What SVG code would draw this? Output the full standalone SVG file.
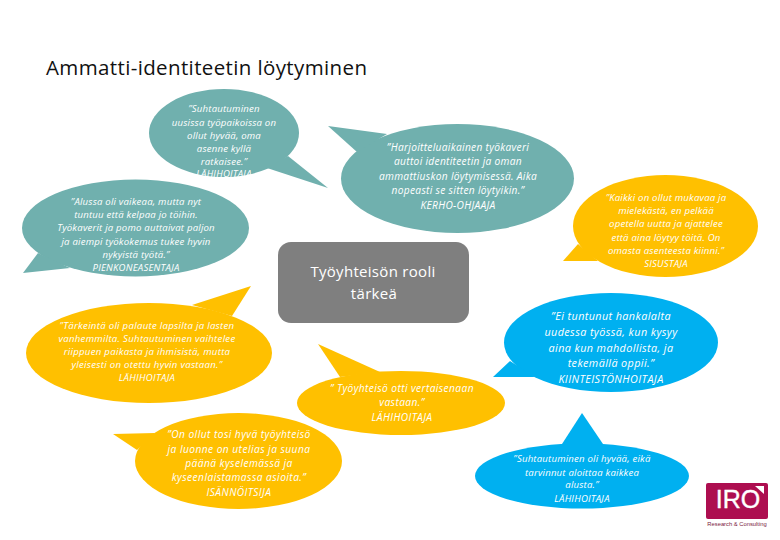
<svg xmlns="http://www.w3.org/2000/svg" width="780" height="540" viewBox="0 0 780 540">
<style>
.t{fill:#70b0ae}.y{fill:#ffc000}.b{fill:#00b0f0}
text{font-family:"Open Sans","DejaVu Sans",sans-serif;fill:#fff;text-anchor:middle}
.q{font-size:9.6px;font-style:italic;letter-spacing:.2px}
.m{font-size:10.2px;letter-spacing:.3px}
.l{font-size:10.8px;letter-spacing:.4px}
.g{font-size:15px;letter-spacing:.3px}
</style>
<rect width="780" height="540" fill="#fff"/>
<text x="46" y="75" style="font-size:20.5px;fill:#111;text-anchor:start;letter-spacing:.37px">Ammatti-identiteetin löytyminen</text>
<g id="n1"><ellipse class="t" cx="224" cy="133" rx="75" ry="44"/><polygon class="t" points="288,156 328,188 267,168"/>
<text class="q" x="224" y="112">”Suhtautuminen</text><text class="q" x="224" y="126">uusissa työpaikoissa on</text><text class="q" x="224" y="139">ollut hyvää, oma</text><text class="q" x="224" y="152">asenne kyllä</text><text class="q" x="224" y="165">ratkaisee.”</text><text class="q" x="224" y="177">LÄHIHOITAJA</text></g>
<g id="n2"><ellipse class="t" cx="135.500" cy="228" rx="113.500" ry="48.500"/><polygon class="t" points="38,253 23,273 70,268"/>
<text class="q" x="136" y="205">”Alussa oli vaikeaa, mutta nyt</text><text class="q" x="136" y="218">tuntuu että kelpaa jo töihin.</text><text class="q" x="136" y="231">Työkaverit ja pomo auttaivat paljon</text><text class="q" x="136" y="245">ja aiempi työkokemus tukee hyvin</text><text class="q" x="136" y="258">nykyistä työtä.”</text><text class="q" x="136" y="271">PIENKONEASENTAJA</text></g>
<g id="n3"><ellipse class="t" cx="457.500" cy="178.500" rx="116.500" ry="54.500"/><polygon class="t" points="387,134 328,126 357,152"/>
<text class="q m" x="458" y="151">”Harjoitteluaikainen työkaveri</text><text class="q m" x="458" y="165">auttoi identiteetin ja oman</text><text class="q m" x="458" y="180">ammattiuskon löytymisessä. Aika</text><text class="q m" x="458" y="194">nopeasti se sitten löytyikin.”</text><text class="q m" x="458" y="209">KERHO-OHJAAJA</text></g>
<g id="n4"><ellipse class="y" cx="665.500" cy="226" rx="92.500" ry="51"/><polygon class="y" points="578,244 563,261 598,261"/>
<text class="q" x="666" y="201">”Kaikki on ollut mukavaa ja</text><text class="q" x="666" y="214">mielekästä, en pelkää</text><text class="q" x="666" y="227">opetella uutta ja ajattelee</text><text class="q" x="666" y="241">että aina löytyy töitä.  On</text><text class="q" x="666" y="254">omasta asenteesta kiinni.”</text><text class="q" x="666" y="267">SISUSTAJA</text></g>
<g id="n5"><rect x="278" y="242" width="191" height="81" rx="13" fill="#7f7f7f"/>
<text class="g" x="373" y="277">Työyhteisön rooli</text><text class="g" x="374" y="299">tärkeä</text></g>
<g id="n6"><ellipse class="y" cx="149" cy="353" rx="123" ry="50"/><polygon class="y" points="192,305 251,286 232,316"/>
<text class="q" style="letter-spacing:.3px" x="147" y="329">”Tärkeintä oli palaute lapsilta ja lasten</text><text class="q" style="letter-spacing:.3px" x="147" y="342">vanhemmilta. Suhtautuminen vaihtelee</text><text class="q" style="letter-spacing:.3px" x="147" y="355">riippuen paikasta ja ihmisistä, mutta</text><text class="q" style="letter-spacing:.3px" x="147" y="368">yleisesti on otettu hyvin vastaan.”</text><text class="q" style="letter-spacing:.3px" x="147" y="381">LÄHIHOITAJA</text></g>
<g id="n7"><ellipse class="y" cx="238.500" cy="461" rx="103.500" ry="48"/><polygon class="y" points="155,433 113,434 137,450"/>
<text class="q m" style="letter-spacing:.45px" x="239" y="438">”On ollut tosi hyvä työyhteisö</text><text class="q m" style="letter-spacing:.45px" x="239" y="453">ja luonne on utelias ja suuna</text><text class="q m" style="letter-spacing:.45px" x="239" y="467">päänä kyselemässä ja</text><text class="q m" style="letter-spacing:.45px" x="239" y="481">kyseenlaistamassa asioita.”</text><text class="q m" style="letter-spacing:.45px" x="239" y="496">ISÄNNÖITSIJA</text></g>
<g id="n8"><ellipse class="y" cx="401" cy="403" rx="104" ry="32"/><polygon class="y" points="380,372 318,344 340,377"/>
<text class="q m" style="letter-spacing:.4px" x="402" y="392">” Työyhteisö otti vertaisenaan</text><text class="q m" style="letter-spacing:.4px" x="402" y="406">vastaan.”</text><text class="q m" style="letter-spacing:.4px" x="402" y="421">LÄHIHOITAJA</text></g>
<g id="n9"><ellipse class="b" cx="611" cy="342.500" rx="107" ry="49.500"/><polygon class="b" points="510,361 493,377 535,377"/>
<text class="q l" x="611" y="320">”Ei tuntunut hankalalta</text><text class="q l" x="611" y="336">uudessa työssä, kun kysyy</text><text class="q l" x="611" y="352">aina kun mahdollista, ja</text><text class="q l" x="611" y="367">tekemällä oppii.”</text><text class="q l" x="611" y="383">KIINTEISTÖNHOITAJA</text></g>
<g id="n10"><ellipse class="b" cx="582" cy="476" rx="107" ry="32.500"/><polygon class="b" points="562,444 582,413 603,444"/>
<text class="q" x="582" y="462">”Suhtautuminen oli hyvää, eikä</text><text class="q" x="582" y="476">tarvinnut aloittaa kaikkea</text><text class="q" x="582" y="488">alusta.”</text><text class="q" x="582" y="502">LÄHIHOITAJA</text></g>
<g id="logo"><rect x="706" y="483" width="62" height="36" rx="2" fill="#ad0e50"/>
<text x="738" y="508" style="font-size:25px;font-family:'Liberation Sans',sans-serif;stroke:#fff;stroke-width:.4">IRO</text>
<polygon points="755,486 764,486 764,494" fill="#fff"/>
<text x="737" y="526" style="font-size:5.800px;fill:#7a2040;font-family:'Liberation Sans',sans-serif">Research &amp; Consulting</text></g>
</svg>
